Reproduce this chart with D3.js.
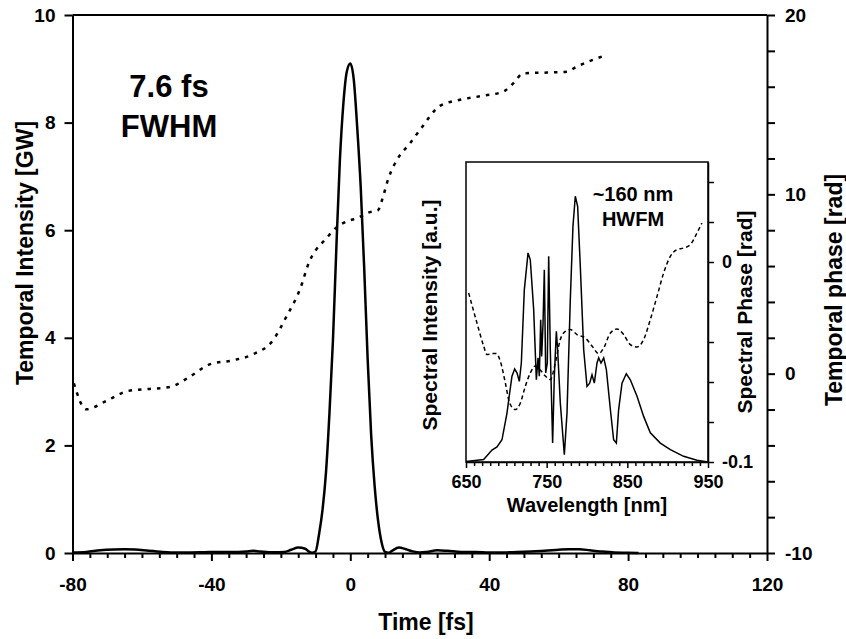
<!DOCTYPE html>
<html>
<head>
<meta charset="utf-8">
<script src="https://cdn.jsdelivr.net/npm/d3@7"></script>
<style>
  body { margin: 0; background: #fff; }
  svg { font-family: "Liberation Sans", Arial, sans-serif; font-weight: bold; }
  .axis .domain, .axis line { stroke: #000; stroke-width: 2; }
  .inset .domain, .inset line { stroke: #000; stroke-width: 1.5; }
</style>
</head>
<body>
<svg width="846" height="639"></svg>
<script>
// temporal intensity [GW] vs time [fs]
var pulseTime = [-80, -76, -72, -68, -65, -62, -58, -54, -50, -46, -42, -38, -34, -30, -28, -26, -22, -19, -17, -15, -13, -12, -11, -10,
  -9, -8, -7, -6, -5, -4, -3, -2, -1, 0, 1, 2, 3, 4, 5, 6, 7, 8, 9, 10, 11, 12, 14, 16, 18, 20,
  22, 25, 28, 32, 36, 40, 44, 48, 52, 56, 60, 63, 66, 69, 72, 76, 80, 83];
var pulseIntensity = [0.01, 0.02, 0.05, 0.065, 0.07, 0.065, 0.04, 0.02, 0.01, 0.01, 0.015, 0.02, 0.02, 0.03, 0.04, 0.03, 0.015, 0.02, 0.06, 0.1, 0.08, 0.03, 0.005, 0.03,
  0.35, 0.8, 1.5, 2.6, 3.95, 5.7, 7.3, 8.35, 8.95, 9.1, 8.8, 7.9, 6.8, 5.3, 3.6, 2.2, 1.25, 0.6, 0.2, 0.02, 0.005, 0.04, 0.1, 0.07, 0.03, 0.01,
  0.02, 0.05, 0.04, 0.02, 0.02, 0.01, 0.01, 0.02, 0.03, 0.04, 0.06, 0.07, 0.07, 0.05, 0.03, 0.01, 0.005, 0];

// temporal phase [rad]
var phaseTime = [-79.6, -76.1, -70.2, -63.9, -57.7, -51.9, -46.2, -40.5, -33.7, -28, -22.2, -18.4, -14.5, -11.6, -9.9, -7.3, -3.9, -1.1, 2.3, 5.2, 8.0,
  9.0, 11, 14, 17, 20.1, 25.8, 31.6, 38.3, 44.1, 47, 49.8, 56.6, 62.3, 65.2, 73.9];
var phaseRad = [-0.54, -1.99, -1.51, -0.96, -0.85, -0.74, -0.17, 0.52, 0.75, 1.08, 1.88, 3.18, 4.7, 6.34, 6.9, 7.46, 8.17, 8.48, 8.7, 8.98, 9.12,
  9.6, 10.9, 12.1, 12.8, 13.6, 14.93, 15.27, 15.5, 15.73, 16.2, 16.75, 16.79, 16.84, 17.12, 17.78];

// inset: spectral intensity [a.u.] vs wavelength [nm]
var specWavelength = [650, 671.9, 682.2, 688.4, 694.6, 700.8, 704.1, 707, 710.3, 713.2, 716.1, 718.6, 722.3, 726.9, 729.7, 733.9, 737.2,
  739.3, 740.9, 742.6, 743.8, 745.5, 747.1, 748.8, 750.8, 752.5, 754.5, 757.4, 759.5, 762, 763.6, 766.9, 771.9, 775.2, 779.3,
  782.6, 785.5, 788.4, 791.7, 795.9, 800, 803.3, 806.2, 809.1, 812.4, 814.5, 817.4, 820.7, 824, 829, 833, 836.4, 839.2, 843.4,
  848.7, 853.7, 862, 870.2, 878.5, 890.9, 903.3, 919.8, 936.3, 950];
var specIntensity = [0.002, 0.008, 0.04, 0.05, 0.074, 0.163, 0.23, 0.286, 0.31, 0.297, 0.269, 0.33, 0.574, 0.697, 0.674, 0.508, 0.274,
  0.347, 0.286, 0.474, 0.352, 0.463, 0.641, 0.297, 0.33, 0.686, 0.374, 0.063, 0.286, 0.436, 0.374, 0.197, 0.024, 0.163, 0.541,
  0.786, 0.886, 0.852, 0.652, 0.374, 0.252, 0.263, 0.291, 0.263, 0.33, 0.347, 0.33, 0.347, 0.308, 0.174, 0.074, 0.063, 0.174, 0.263,
  0.294, 0.274, 0.219, 0.152, 0.097, 0.063, 0.041, 0.019, 0.006, 0];

// inset: spectral phase [rad]
var specPhaseWavelength = [653.3, 663.6, 671.9, 676, 682.2, 687.6, 692.6, 698.8, 704.1, 711.2, 717.4, 723.5, 729.7, 736, 742.1, 748.3,
  754.5, 760.7, 766.9, 773.1, 779.3, 787.6, 797.9, 806.2, 814.5, 820.7, 829, 837.2, 845.4, 853.7, 862, 870.2, 878.5, 886.8, 895,
  903.3, 911.5, 919.8, 928.1, 936.3, 942.5];
var specPhase = [-0.0155, -0.0305, -0.042, -0.0463, -0.0458, -0.0458, -0.0497, -0.0605, -0.0705, -0.0738, -0.0705, -0.0622, -0.0555,
  -0.052, -0.054, -0.057, -0.0588, -0.0505, -0.0388, -0.0347, -0.0338, -0.0363, -0.038, -0.042, -0.0458, -0.043, -0.0355, -0.0335,
  -0.0363, -0.0413, -0.0425, -0.0388, -0.0288, -0.0172, -0.0055, 0.0028, 0.0062, 0.007, 0.0087, 0.0145, 0.0195];

var svg = d3.select("svg");

var x = d3.scaleLinear().domain([-80, 120]).range([72.5, 767]);
var y = d3.scaleLinear().domain([0, 10]).range([553, 15]);
var y2 = d3.scaleLinear().domain([-10, 20]).range([553, 15]);

// frame top
svg.append("line").attr("x1", 72.5).attr("x2", 767).attr("y1", 15).attr("y2", 15)
  .attr("stroke", "#000").attr("stroke-width", 2);

// left axis
var gl = svg.append("g").attr("class", "axis").attr("transform", "translate(72.5,0)")
  .call(d3.axisLeft(y).tickValues([0, 2, 4, 6, 8, 10]).tickSize(8).tickSizeOuter(0).tickPadding(9));
gl.selectAll("text").attr("font-size", 19).attr("font-family", null);

// right axis
var gr = svg.append("g").attr("class", "axis").attr("transform", "translate(767,0)")
  .call(d3.axisRight(y2).tickValues(d3.range(-10, 21, 2)).tickSize(8).tickSizeOuter(0).tickPadding(10)
    .tickFormat(function (d) { return d % 10 === 0 ? d : ""; }));
gr.selectAll("text").attr("font-size", 19).attr("font-family", null);

// bottom axis
var gb = svg.append("g").attr("class", "axis").attr("transform", "translate(0,553)")
  .call(d3.axisBottom(x).tickValues(d3.range(-80, 121, 5)).tickSize(5).tickSizeOuter(0)
    .tickFormat(function (d) { return d % 40 === 0 ? d : ""; }));
gb.selectAll(".tick line").attr("y2", function (d) { return d % 40 === 0 ? 8 : 5; });
gb.selectAll("text").attr("font-size", 19).attr("font-family", null).attr("y", 25);

// axis titles
svg.append("text").attr("transform", "translate(33,253) rotate(-90)")
  .attr("text-anchor", "middle").attr("font-size", 23).text("Temporal Intensity [GW]");
svg.append("text").attr("transform", "translate(842,290) rotate(-90)")
  .attr("text-anchor", "middle").attr("font-size", 23).text("Temporal phase [rad]");
svg.append("text").attr("x", 426).attr("y", 630)
  .attr("text-anchor", "middle").attr("font-size", 23).text("Time [fs]");

svg.append("text").attr("x", 169).attr("y", 97).attr("text-anchor", "middle")
  .attr("font-size", 31).text("7.6 fs");
svg.append("text").attr("x", 169).attr("y", 137).attr("text-anchor", "middle")
  .attr("font-size", 31).text("FWHM");

// temporal phase (dotted)
var phaseLine = d3.line()
  .x(function (d, i) { return x(phaseTime[i]); })
  .y(function (d) { return y2(d); })
  .curve(d3.curveMonotoneX);
svg.append("path").attr("d", phaseLine(phaseRad))
  .attr("fill", "none").attr("stroke", "#000").attr("stroke-width", 2.5)
  .attr("stroke-dasharray", "3.5,6");

// temporal intensity
var pulseLine = d3.line()
  .x(function (d, i) { return x(pulseTime[i]); })
  .y(function (d) { return y(d); })
  .curve(d3.curveMonotoneX);
svg.append("path").attr("d", pulseLine(pulseIntensity))
  .attr("fill", "none").attr("stroke", "#000").attr("stroke-width", 2.5);

// ---- inset ----
var ix = d3.scaleLinear().domain([650, 950]).range([466, 708]);
var iy = d3.scaleLinear().domain([0, 1]).range([462, 162]);
var iy2 = d3.scaleLinear().domain([-0.1, 0.05]).range([462, 162]);

var inset = svg.append("g");
inset.append("rect").attr("x", 466).attr("y", 162).attr("width", 242).attr("height", 300)
  .attr("fill", "#fff").attr("stroke", "#000").attr("stroke-width", 1.5);

var ib = inset.append("g").attr("class", "inset").attr("transform", "translate(0,462)")
  .call(d3.axisBottom(ix).tickValues(d3.range(650, 951, 10)).tickSize(4).tickSizeOuter(0)
    .tickFormat(function (d) { return (d - 650) % 100 === 0 ? d : ""; }));
ib.selectAll(".tick line").attr("y2", function (d) { return (d - 650) % 100 === 0 ? 6 : 4; });
ib.selectAll("text").attr("font-size", 18).attr("font-family", null).attr("y", 13);

var ir = inset.append("g").attr("class", "inset").attr("transform", "translate(708,0)")
  .call(d3.axisRight(iy2).tickValues(d3.range(-5, 3).map(function (k) { return k * 0.02; })).tickSize(6).tickSizeOuter(0).tickPadding(8)
    .tickFormat(function (d) { return Math.abs(d) < 1e-9 ? "0" : (Math.abs(d + 0.1) < 1e-9 ? "-0.1" : ""); }));
ir.selectAll("text").attr("font-size", 18).attr("font-family", null);

inset.append("text").attr("transform", "translate(437,315) rotate(-90)")
  .attr("text-anchor", "middle").attr("font-size", 21).text("Spectral Intensity [a.u.]");
inset.append("text").attr("transform", "translate(752,312) rotate(-90)")
  .attr("text-anchor", "middle").attr("font-size", 21).text("Spectral Phase [rad]");
inset.append("text").attr("x", 587).attr("y", 512).attr("text-anchor", "middle")
  .attr("font-size", 20).text("Wavelength [nm]");

inset.append("text").attr("x", 633).attr("y", 201).attr("text-anchor", "middle")
  .attr("font-size", 20).text("~160 nm");
inset.append("text").attr("x", 633).attr("y", 226).attr("text-anchor", "middle")
  .attr("font-size", 20).text("HWFM");

var specPhaseLine = d3.line()
  .x(function (d, i) { return ix(specPhaseWavelength[i]); })
  .y(function (d) { return iy2(d); })
  .curve(d3.curveMonotoneX);
inset.append("path").attr("d", specPhaseLine(specPhase))
  .attr("fill", "none").attr("stroke", "#000").attr("stroke-width", 1.5)
  .attr("stroke-dasharray", "4,3");

var specLine = d3.line()
  .x(function (d, i) { return ix(specWavelength[i]); })
  .y(function (d) { return iy(d); });
inset.append("path").attr("d", specLine(specIntensity))
  .attr("fill", "none").attr("stroke", "#000").attr("stroke-width", 1.5);
</script>
</body>
</html>
